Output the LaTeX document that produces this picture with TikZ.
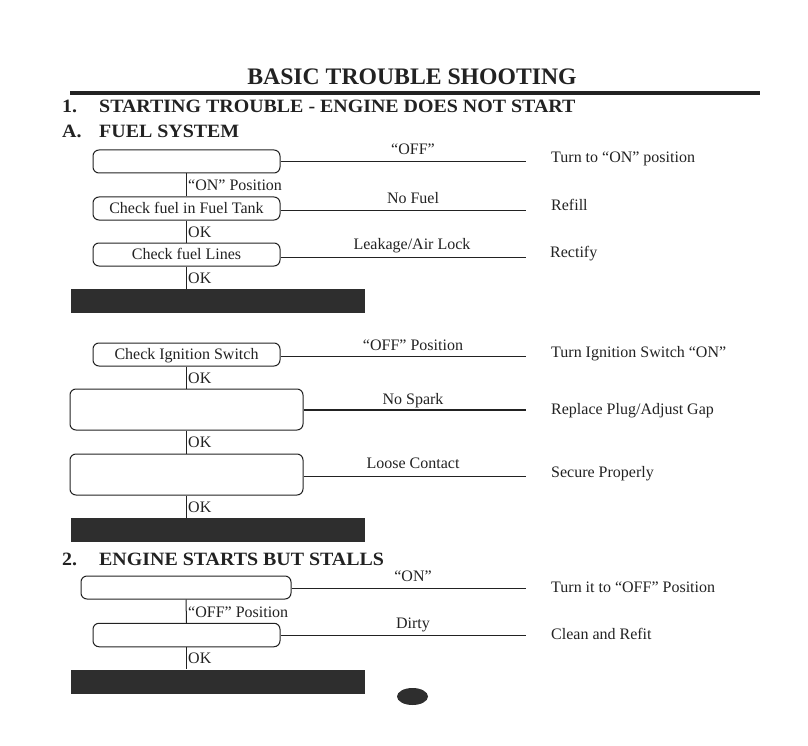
\documentclass[tikz,border=0pt]{standalone}
\usepackage{fontspec}
\usetikzlibrary{shapes.geometric}
\setmainfont{Liberation Serif}
\definecolor{ink}{HTML}{222222}
\definecolor{barc}{HTML}{2E2E2E}
\begin{document}
\begin{tikzpicture}[x=1pt,y=-1pt,
  every node/.style={text=ink},
  body/.style={font=\fontsize{16}{19}\selectfont},
  box/.style={body, draw=ink, line width=1pt, rounded corners=6pt, minimum width=187pt, minimum height=23pt, inner sep=0pt, text height=11pt, text depth=1.5pt},
  bigbox/.style={box, minimum width=233pt, minimum height=41pt},
  bar/.style={fill=barc, draw=none, inner sep=0pt, minimum width=294pt, minimum height=24pt},
  lab/.style={body, anchor=base, inner sep=0pt},
  fix/.style={body, anchor=base west, inner sep=0pt},
  vlab/.style={body, anchor=base west, inner sep=0pt},
  conn/.style={draw=ink, line width=1pt},
  head/.style={anchor=base west, inner sep=0pt, font=\fontsize{18.8}{22}\selectfont\bfseries}]
\useasboundingbox (0,0) rectangle (808,746);

% title and headings
\node[anchor=base, inner sep=0pt, font=\fontsize{23.7}{28}\selectfont\bfseries] (title) at (412,85) {BASIC TROUBLE SHOOTING};
\coordinate (ruleL) at (70,93);
\coordinate (ruleR) at (760,93);
\draw[ink, line width=4pt] (ruleL) -- (ruleR);
\node[head] (h1n) at (62,113) {\scalebox{1.06}[1]{1.}};
\node[head] (h1) at (99,113) {\scalebox{1.06}[1]{STARTING TROUBLE - ENGINE DOES NOT START}};
\node[head] (hAn) at (62,138) {\scalebox{1.06}[1]{A.}};
\node[head] (hA) at (99,138) {\scalebox{1.06}[1]{FUEL SYSTEM}};
\node[head] (h2n) at (62,565) {\scalebox{1.06}[1]{2.}};
\node[head] (h2) at (99,565) {\scalebox{1.06}[1]{ENGINE STARTS BUT STALLS}};

% ---------- A. Fuel system ----------
\node[box] (a1) at (186.5,161.5) {};
\node[box] (a2) at (186.5,208.5) {Check fuel in Fuel Tank};
\node[box] (a3) at (186.5,254.5) {Check fuel Lines};
\node[bar] (barA) at (218,301) {};

\coordinate (ea1) at (526,162);
\coordinate (ea2) at (526,210);
\coordinate (ea3) at (526,257);
\draw[conn] (a1.east |- ea1) -- (ea1);
\draw[conn] (a2.east |- ea2) -- (ea2);
\draw[conn] (a3.east |- ea3) -- (ea3);
\node[lab] (la1) at (413,155) {“OFF”};
\node[lab] (la2) at (413,204) {No Fuel};
\node[lab] (la3) at (412,249) {Leakage/Air Lock};
\node[fix] (ra1) at (551,162.5) {Turn to “ON” position};
\node[fix] (ra2) at (551,211) {Refill};
\node[fix] (ra3) at (550,257) {Rectify};

\draw[conn] (a1.south) -- (a2.north);
\draw[conn] (a2.south) -- (a3.north);
\draw[conn] (a3.south) -- (a3.south |- barA.north);
\node[vlab] (va1) at (188,190) {“ON” Position};
\node[vlab] (va2) at (188,237) {OK};
\node[vlab] (va3) at (188,283) {OK};

% ---------- Ignition ----------
\node[box] (b1) at (186.5,354.5) {Check Ignition Switch};
\node[bigbox] (b2) at (186.5,409.5) {};
\node[bigbox] (b3) at (186.5,474.5) {};
\node[bar] (barB) at (218,530) {};

\coordinate (eb1) at (526,356);
\coordinate (eb2) at (526,410);
\coordinate (eb3) at (526,476);
\draw[conn] (b1.east |- eb1) -- (eb1);
\draw[conn, line width=2pt] (b2.east |- eb2) -- (eb2);
\draw[conn] (b3.east |- eb3) -- (eb3);
\node[lab] (lb1) at (413,350) {“OFF” Position};
\node[lab] (lb2) at (413,404) {No Spark};
\node[lab] (lb3) at (413,468) {Loose Contact};
\node[fix] (rb1) at (551,357) {Turn Ignition Switch “ON”};
\node[fix] (rb2) at (551,414) {Replace Plug/Adjust Gap};
\node[fix] (rb3) at (551,477) {Secure Properly};

\draw[conn] (b1.south) -- (b2.north);
\draw[conn] (b2.south) -- (b3.north);
\draw[conn] (b3.south) -- (b3.south |- barB.north);
\node[vlab] (vb1) at (188,383) {OK};
\node[vlab] (vb2) at (188,447) {OK};
\node[vlab] (vb3) at (188,512) {OK};

% ---------- 2. Engine starts but stalls ----------
\node[box, minimum width=210pt] (c1) at (186,587.5) {};
\node[box, minimum height=23.5pt] (c2) at (186.5,635) {};
\node[bar] (barC) at (218,681.5) {};

\coordinate (ec1) at (526,588);
\coordinate (ec2) at (526,635);
\draw[conn] (c1.east |- ec1) -- (ec1);
\draw[conn] (c2.east |- ec2) -- (ec2);
\node[lab] (lc1) at (413,581) {“ON”};
\node[lab] (lc2) at (413,628) {Dirty};
\node[fix] (rc1) at (551,592) {Turn it to “OFF” Position};
\node[fix] (rc2) at (551,639) {Clean and Refit};

\draw[conn] (c1.south) -- (c2.north);
\draw[conn] (c2.south) -- (c2.south |- barC.north);
\node[vlab] (vc1) at (188,617) {“OFF” Position};
\node[vlab] (vc2) at (188,663) {OK};

% page mark
\node[ellipse, fill=barc, inner sep=0pt, minimum width=31pt, minimum height=17pt] (dot) at (412.5,696.5) {};
\end{tikzpicture}
\end{document}
